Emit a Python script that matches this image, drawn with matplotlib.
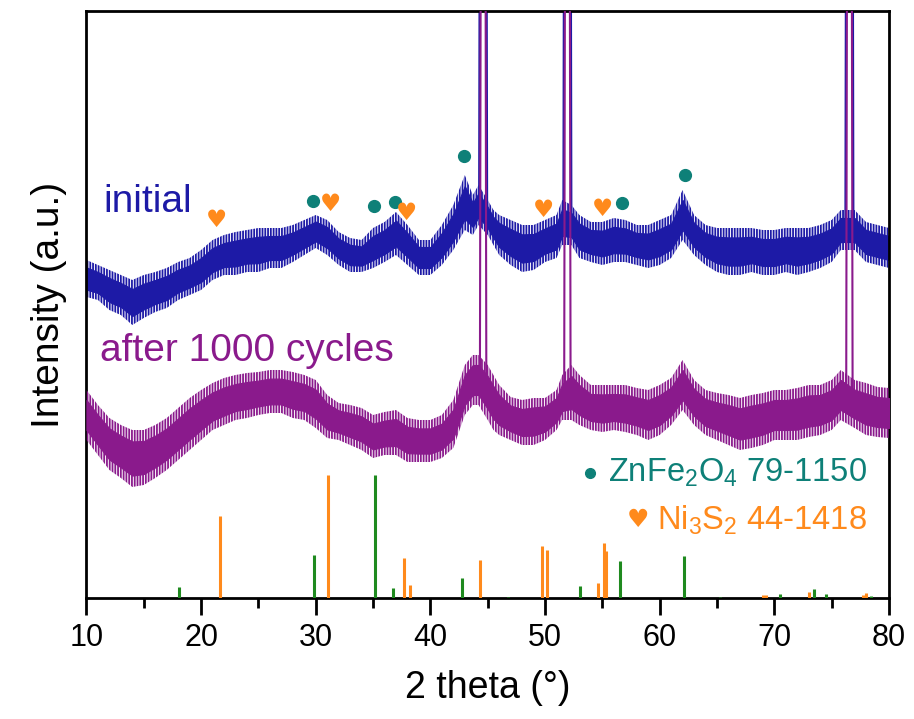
import matplotlib
matplotlib.use("Agg")
import matplotlib.pyplot as plt
import numpy as np

plt.rcParams['font.family'] = ['Liberation Sans', 'DejaVu Sans']
plt.rcParams['mathtext.fontset'] = 'custom'
plt.rcParams['mathtext.rm'] = 'Liberation Sans'
plt.rcParams['mathtext.it'] = 'Liberation Sans'
plt.rcParams['mathtext.default'] = 'regular'
plt.rcParams['hatch.linewidth'] = 1.3

# ---- data (intensity in arbitrary units) ----
init_x = [10, 11, 12, 13, 14, 15, 16, 17, 18, 19, 20, 21, 22, 23, 24, 25, 26, 27, 28, 29,
          30, 31, 32, 33, 34, 35, 36, 37, 38, 39, 40, 41, 42, 43, 43.7, 44.2, 45.0, 45.5,
          46, 47, 48, 49, 50, 51, 51.5, 52.3, 53, 54, 55, 56, 57, 58, 59, 60, 61, 62, 63,
          64, 65, 66, 67, 68, 69, 70, 71, 72, 73, 74, 75, 75.8, 77, 78, 79, 80]
init_hi = [338, 333, 328, 323, 318, 323, 326, 330, 336, 340, 348, 358, 363, 366, 368, 370, 370, 370, 373, 378,
           383, 378, 366, 360, 358, 370, 376, 386, 373, 358, 358, 373, 393, 423, 403, 413, 398, 388,
           383, 378, 373, 373, 378, 383, 398, 393, 383, 376, 376, 380, 378, 373, 373, 378, 383, 408, 383,
           373, 370, 370, 370, 370, 368, 368, 370, 370, 370, 373, 378, 388, 388, 376, 373, 370]
init_lo = [301, 298, 288, 283, 273, 280, 286, 290, 298, 303, 308, 318, 323, 323, 326, 326, 330, 330, 336, 343,
           350, 343, 333, 326, 326, 330, 336, 343, 333, 323, 323, 333, 348, 368, 363, 373, 363, 353,
           343, 333, 326, 328, 336, 340, 353, 353, 340, 336, 333, 336, 336, 333, 330, 333, 340, 358, 343,
           333, 326, 323, 323, 326, 323, 323, 326, 323, 326, 330, 336, 348, 348, 336, 333, 330]

after_x = init_x
after_hi = [208, 193, 180, 173, 168, 168, 173, 180, 190, 200, 208, 215, 220, 223, 225, 226, 228, 228, 226, 223,
            218, 203, 195, 193, 190, 183, 186, 188, 180, 178, 178, 183, 198, 233, 243, 243, 233, 223,
            213, 201, 198, 200, 200, 208, 223, 233, 223, 213, 213, 213, 213, 210, 208, 213, 220, 238, 218,
            208, 205, 203, 200, 203, 205, 208, 208, 210, 213, 213, 218, 228, 218, 215, 211, 210]
after_lo = [158, 143, 128, 120, 111, 113, 120, 128, 138, 148, 158, 168, 173, 178, 180, 183, 185, 185, 180, 178,
            170, 160, 158, 153, 148, 140, 143, 143, 136, 136, 136, 140, 150, 183, 193, 193, 178, 168,
            163, 158, 153, 153, 158, 168, 178, 178, 173, 168, 166, 168, 166, 163, 158, 163, 173, 188, 173,
            163, 158, 153, 148, 150, 153, 158, 158, 158, 161, 163, 168, 178, 170, 163, 161, 160]

# Ni substrate reflections (off-scale peaks)
ni_peaks = [44.6, 51.95, 76.55]
init_peak_base = [390, 378, 368]
after_peak_base = [215, 200, 198]

# Reference patterns
znfe_pos = [18.1, 29.84, 35.14, 36.74, 42.77, 46.8, 53.05, 56.58, 62.14, 65.3, 70.47, 73.47, 74.5, 78.4]
znfe_int = [11, 43, 123, 10, 20, 1, 12, 37, 42, 1, 4, 9, 4, 2]
ni3s2_pos = [21.65, 31.03, 37.73, 38.23, 44.31, 49.73, 50.14, 54.6, 55.18, 55.36, 69.0, 69.3, 73.03, 77.7, 78.0]
ni3s2_int = [82, 123, 40, 13, 38, 52, 48, 15, 55, 47, 3, 3, 6, 3, 5]

# Phase markers
znfe_mark_x = [29.75, 35.08, 36.92, 42.95, 56.75, 62.17]
znfe_mark_y = [397, 392, 396, 442, 395, 423]
ni3s2_mark_x = [21.36, 31.24, 37.88, 49.85, 55.0]
ni3s2_mark_y = [378, 394, 385, 388, 389]

# ---- styles ----
c_init = '#1d1aa6'
c_after = '#8a1a8c'
c_teal = '#0e8078'
c_orange = '#ff8a1c'
c_green = '#1f8a1f'

fig = plt.figure(figsize=(9.14, 7.19), dpi=100)
ax = fig.add_axes([0.0946, 0.1683, 0.8780, 0.8164])


def draw_band(x, lo, hi, color, z):
    lo = np.asarray(lo, float)
    hi = np.asarray(hi, float)
    # ragged outer part of the noisy trace (spikes) drawn as vertical hatching
    ax.fill_between(x, lo, hi, facecolor='none', edgecolor=color, hatch='||||||',
                    lw=0, zorder=z)
    # dense core of the trace
    core = 0.2 * (hi - lo)
    ax.fill_between(x, lo + core, hi - core, color=color, lw=0.8, zorder=z)


draw_band(init_x, init_lo, init_hi, c_init, 2)
for c, b in zip(ni_peaks, init_peak_base):
    ax.plot([c - 0.35, c - 0.26, c + 0.26, c + 0.35], [b, 900, 900, b], color=c_init, lw=1.5, zorder=2)
draw_band(after_x, after_lo, after_hi, c_after, 3)
for c, b in zip(ni_peaks, after_peak_base):
    ax.plot([c - 0.28, c - 0.17, c + 0.17, c + 0.28], [b, 900, 900, b], color=c_after, lw=1.5, zorder=3)

# reference sticks
ax.vlines(znfe_pos, 0, znfe_int, color=c_green, lw=2.2, zorder=4)
ax.vlines(ni3s2_pos, 0, ni3s2_int, color=c_orange, lw=2.2, zorder=4)

# phase markers
ax.plot(znfe_mark_x, znfe_mark_y, 'o', color=c_teal, ms=8.5, zorder=5)
for x, y in zip(ni3s2_mark_x, ni3s2_mark_y):
    ax.text(x, y, '\u2665', color=c_orange, fontsize=17, ha='center', va='center',
            family=['DejaVu Sans'], zorder=5)

# labels
ax.text(0.0215, 0.675, 'initial', transform=ax.transAxes, color=c_init, fontsize=28,
        ha='left', va='center')
ax.text(0.0165, 0.42, 'after 1000 cycles', transform=ax.transAxes, color=c_after, fontsize=28,
        ha='left', va='center')

# legend texts
ax.text(0.9725, 0.2125, 'ZnFe$_2$O$_4$ 79-1150', transform=ax.transAxes, color=c_teal,
        fontsize=23.5, ha='right', va='center')
ax.plot([0.628], [0.2125], 'o', transform=ax.transAxes, color=c_teal, ms=7, zorder=5)
ax.text(0.9725, 0.133, 'Ni$_3$S$_2$ 44-1418', transform=ax.transAxes, color=c_orange,
        fontsize=23.5, ha='right', va='center')
ax.text(0.687, 0.133, '\u2665', transform=ax.transAxes, color=c_orange, fontsize=18,
        ha='center', va='center', family=['DejaVu Sans'])

ax.set_xlim(10, 80)
ax.set_ylim(0, 587)
ax.set_xticks([10, 20, 30, 40, 50, 60, 70, 80])
ax.set_xticks([15, 25, 35, 45, 55, 65, 75], minor=True)
ax.set_yticks([])
ax.tick_params(axis='x', which='major', length=12, width=2, labelsize=22, pad=6, direction='out')
ax.tick_params(axis='x', which='minor', length=7, width=2, direction='out')
for s in ax.spines.values():
    s.set_linewidth(2)

ax.set_xlabel('2 theta (\u00b0)', fontsize=27, labelpad=12)
ax.set_ylabel('Intensity (a.u.)', fontsize=28, labelpad=14)

fig.savefig('out.png', dpi=100, facecolor='white')
